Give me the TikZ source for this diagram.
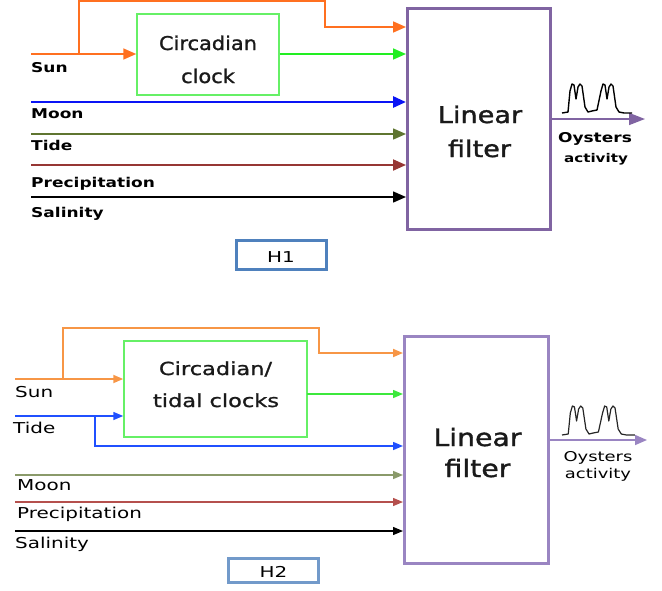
\documentclass[tikz,border=0pt]{standalone}
\usepackage{fontspec}
\usetikzlibrary{arrows.meta,calc}
\newfontfamily\fA[FakeStretch=1.26]{DejaVu Sans}
\newfontfamily\fB[FakeStretch=1.33]{DejaVu Sans}
\newfontfamily\fC[FakeStretch=1.1,FakeBold=1.2]{DejaVu Sans}
\newfontfamily\fD[FakeStretch=1.25,FakeBold=1.2]{DejaVu Sans}
\newfontfamily\fE[FakeStretch=1.18,FakeBold=1.5]{DejaVu Sans}
\definecolor{orT}{HTML}{FF7020}
\definecolor{grT}{HTML}{22EE22}
\definecolor{boxG}{HTML}{66F066}
\definecolor{blT}{HTML}{0A14F5}
\definecolor{olT}{HTML}{5F7530}
\definecolor{brT}{HTML}{963634}
\definecolor{puT}{HTML}{8064A2}
\definecolor{orB}{HTML}{F79646}
\definecolor{grB}{HTML}{3CE83C}
\definecolor{blB}{HTML}{2050FF}
\definecolor{olB}{HTML}{8A9A6A}
\definecolor{brB}{HTML}{B5504D}
\definecolor{puB}{HTML}{9A85C2}
\definecolor{hB}{HTML}{4F81BD}
\definecolor{txt}{HTML}{1A1A1A}
\begin{document}
\begin{tikzpicture}[x=1pt,y=-1pt,
  box/.style={draw, rectangle, inner sep=0pt},
  tipT/.style={-{Triangle[length=13pt,width=11pt]}},
  tipB/.style={-{Triangle[length=10pt,width=8pt]}},
  labT/.style={anchor=base west, inner sep=0pt, font=\fA\bfseries\fontsize{13.5}{16}\selectfont},
  labB/.style={anchor=base west, inner sep=0pt, font=\fB\fontsize{15}{18}\selectfont},
  wave/.style={draw=black, line width=1.4pt, line join=round}]
\useasboundingbox (0,0) rectangle (662,590);

% ================= H1 =================
\node[box, draw=puT, line width=3pt, minimum width=143pt, minimum height=221pt] (lf1) at (479,118.5) {};
\node[box, draw=boxG, line width=1.5pt, minimum width=142pt, minimum height=81pt] (cc1) at (208,54.5) {};
\node[anchor=base, inner sep=0pt, text=txt, font=\fC\fontsize{19}{22}\selectfont] (cc1a) at (208,50) {Circadian};
\node[anchor=base, inner sep=0pt, text=txt, font=\fC\fontsize{19}{22}\selectfont] (cc1b) at (208,83) {clock};
\node[anchor=base, inner sep=0pt, text=txt, font=\fE\fontsize{23}{26}\selectfont] (lf1a) at (480,123) {Linear};
\node[anchor=base, inner sep=0pt, text=txt, font=\fE\fontsize{23}{26}\selectfont] (lf1b) at (479.5,157) {filter};

\coordinate (sun1) at (31,54);
\coordinate (br1) at (79,54);
\coordinate (moon1) at (31,102);
\coordinate (tide1) at (31,134);
\coordinate (pre1) at (31,165);
\coordinate (sal1) at (31,197);

\draw[orT, line width=1.7pt, tipT] (sun1) -- (sun1 -| cc1.west);
\draw[orT, line width=1.7pt, tipT] (br1) -- (79,1) -- (325,1) -- (325,27) -- (lf1.west |- 0,27);
\draw[grT, line width=1.7pt, tipT] (cc1.east |- sun1) -- (sun1 -| lf1.west);
\draw[blT, line width=2.8pt, tipT] (moon1) -- (moon1 -| lf1.west);
\draw[olT, line width=1.5pt, tipT] (tide1) -- (tide1 -| lf1.west);
\draw[brT, line width=2pt, tipT] (pre1) -- (pre1 -| lf1.west);
\draw[black, line width=1.5pt, tipT] (sal1) -- (sal1 -| lf1.west);

\node[labT] (lsun1) at (31,72) {Sun};
\node[labT] (lmoon1) at (31,118) {Moon};
\node[labT] (ltide1) at (31,150) {Tide};
\node[labT] (lpre1) at (31,187) {Precipitation};
\node[labT] (lsal1) at (31,217) {Salinity};

\coordinate (out1) at (645,119);
\draw[puT, line width=1.5pt, -{Triangle[length=16pt,width=12pt]}] (lf1.east |- out1) -- (out1);
\begin{scope}[shift={(562,113)}]
\draw[wave] (0,0) -- (6,-1) -- (8,-22) -- (10,-29) -- (12,-28) -- (14,-14) -- (16,-26) -- (18,-29) -- (20,-27) -- (23,-6) -- (26,-1) -- (30,-2) -- (35,-3) -- (39,-22) -- (41,-29) -- (43,-28) -- (45,-14) -- (47,-26) -- (49,-29) -- (51,-27) -- (54,-6) -- (57,-1) -- (62,0) -- (70,0);
\end{scope}
\node[anchor=base, inner sep=0pt, font=\fA\bfseries\fontsize{13.5}{16}\selectfont] (oy1) at (595,142) {Oysters};
\node[anchor=base, inner sep=0pt, font=\fA\bfseries\fontsize{12}{15}\selectfont] (ac1) at (596,162) {activity};

\node[box, draw=hB, line width=3pt, minimum width=90pt, minimum height=29pt] (h1) at (281.5,255) {};
\node[anchor=base, inner sep=0pt, font=\fB\fontsize{15}{16}\selectfont] (h1t) at (281,262) {H1};

% ================= H2 =================
\node[box, draw=puB, line width=3pt, minimum width=144pt, minimum height=227pt] (lf2) at (476.5,450) {};
\node[box, draw=boxG, line width=1.5pt, minimum width=183pt, minimum height=96pt] (ct2) at (215.5,389) {};
\node[anchor=base, inner sep=0pt, text=txt, font=\fD\fontsize{18}{21}\selectfont] (ct2a) at (215.5,375) {Circadian/};
\node[anchor=base, inner sep=0pt, text=txt, font=\fD\fontsize{18}{21}\selectfont] (ct2b) at (216,407) {tidal clocks};
\node[anchor=base, inner sep=0pt, text=txt, font=\fE\fontsize{24}{27}\selectfont] (lf2a) at (477.5,446) {Linear};
\node[anchor=base, inner sep=0pt, text=txt, font=\fE\fontsize{24}{27}\selectfont] (lf2b) at (477.5,477) {filter};

\coordinate (sun2) at (15,379);
\coordinate (br2) at (63,379);
\coordinate (tide2) at (15,416);
\coordinate (br2b) at (95,416);
\coordinate (moon2) at (15,475);
\coordinate (pre2) at (15,502);
\coordinate (sal2) at (15,531);
\coordinate (gr2) at (307,394);

\draw[orB, line width=1.8pt, tipB] (sun2) -- (sun2 -| ct2.west);
\draw[orB, line width=1.8pt, tipB] (br2) -- (63,328) -- (319,328) -- (319,353) -- (lf2.west |- 0,353);
\draw[grB, line width=1.5pt, tipB] (gr2) -- (gr2 -| lf2.west);
\draw[blB, line width=1.5pt, tipB] (tide2) -- (tide2 -| ct2.west);
\draw[blB, line width=1.5pt, tipB] (br2b) -- (95,446) -- (lf2.west |- 0,446);
\draw[olB, line width=1.6pt, tipB] (moon2) -- (moon2 -| lf2.west);
\draw[brB, line width=1.3pt, tipB] (pre2) -- (pre2 -| lf2.west);
\draw[black, line width=1.3pt, tipB] (sal2) -- (sal2 -| lf2.west);

\node[labB] (lsun2) at (15,397) {Sun};
\node[labB] (ltide2) at (13,433) {Tide};
\node[labB] (lmoon2) at (17,490) {Moon};
\node[labB] (lpre2) at (17,518) {Precipitation};
\node[labB] (lsal2) at (15,548) {Salinity};

\coordinate (out2) at (647,440);
\draw[puB, line width=1.5pt, -{Triangle[length=12pt,width=10pt]}] (lf2.east |- out2) -- (out2);
\begin{scope}[shift={(562,435)}, xscale=1.04]
\draw[wave, line width=1.2pt, black!85] (0,0) -- (6,-1) -- (8,-22) -- (10,-29) -- (12,-28) -- (14,-14) -- (16,-26) -- (18,-29) -- (20,-27) -- (23,-6) -- (26,-1) -- (30,-2) -- (35,-3) -- (39,-22) -- (41,-29) -- (43,-28) -- (45,-14) -- (47,-26) -- (49,-29) -- (51,-27) -- (54,-6) -- (57,-1) -- (62,0) -- (70,0);
\end{scope}
\node[anchor=base, inner sep=0pt, font=\fB\fontsize{13.5}{16}\selectfont] (oy2) at (598,461) {Oysters};
\node[anchor=base, inner sep=0pt, font=\fB\fontsize{13.5}{16}\selectfont] (ac2) at (598,478) {activity};

\node[box, draw=hB!80, line width=3pt, minimum width=90pt, minimum height=24pt] (h2) at (273.5,570) {};
\node[anchor=base, inner sep=0pt, font=\fB\fontsize{15}{16}\selectfont] (h2t) at (273.5,577) {H2};
\end{tikzpicture}
\end{document}
